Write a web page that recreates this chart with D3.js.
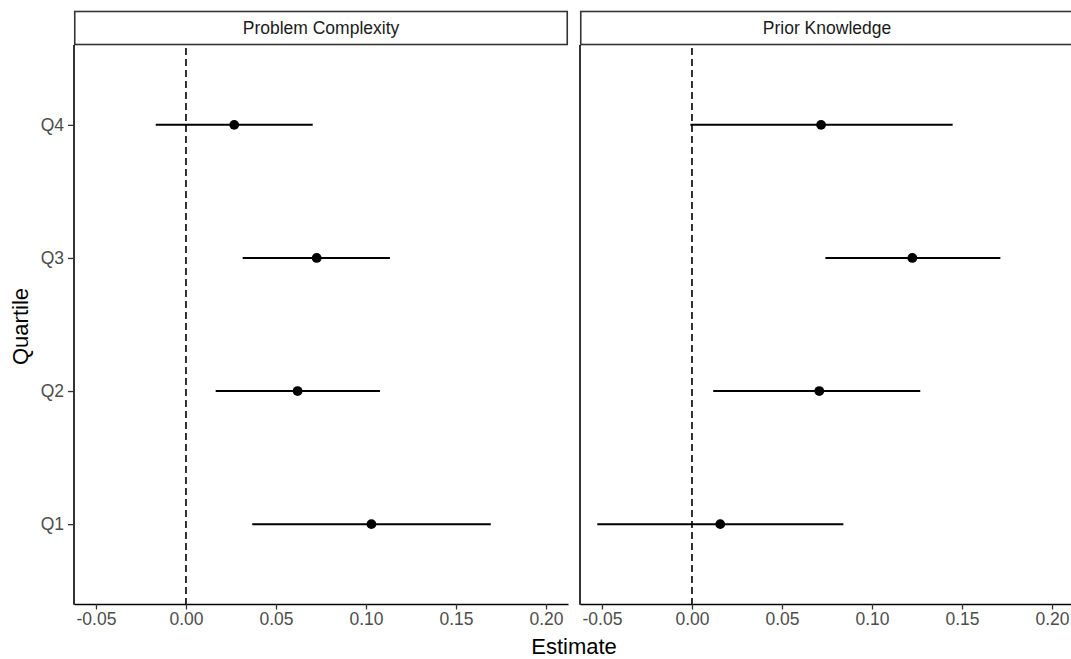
<!DOCTYPE html>
<html>
<head>
<meta charset="utf-8">
<script src="https://cdn.jsdelivr.net/npm/d3@7"></script>
<style>
  html, body { margin: 0; padding: 0; background: #fff; overflow: hidden; }
  text { font-family: "Liberation Sans", Arial, sans-serif; }
</style>
</head>
<body>
<svg id="chart"></svg>
<script>
// Facet panels and quartile categories
const panels = ["Problem Complexity", "Prior Knowledge"];
const quartiles = ["Q1", "Q2", "Q3", "Q4"];
const xTicks = [-0.05, 0.00, 0.05, 0.10, 0.15, 0.20];

// Estimates with lower / upper confidence bounds, per quartile (Q1..Q4)
const complexityEst = [0.103, 0.062, 0.0726, 0.0268];
const complexityLo  = [0.0368, 0.0165, 0.0315, -0.0168];
const complexityHi  = [0.1693, 0.1078, 0.1133, 0.0704];

const knowledgeEst = [0.0157, 0.0707, 0.1224, 0.0717];
const knowledgeLo  = [-0.0526, 0.0118, 0.0741, -0.0009];
const knowledgeHi  = [0.0841, 0.1268, 0.1713, 0.1448];

const seriesByPanel = [
  { est: complexityEst, lo: complexityLo, hi: complexityHi },
  { est: knowledgeEst, lo: knowledgeLo, hi: knowledgeHi }
];

const W = 1080, H = 659;
const svg = d3.select("#chart").attr("width", W).attr("height", H);

const panelLeft = [74, 580];
const panelW = 494;
const plotTop = 45, plotBottom = 604;
const stripTop = 11.5, stripH = 33;
const tickFont = 17.5, titleFont = 22;

const xDomain = [-0.0622, 0.2122];
// two decimals, plain hyphen for negatives
const fmt = d => d3.format(".2f")(d).replace("\u2212", "-");

const y = d3.scalePoint()
  .domain(quartiles.slice().reverse())
  .range([plotTop, plotBottom])
  .padding(0.6);

panels.forEach((name, pi) => {
  const x0 = panelLeft[pi];
  const x = d3.scaleLinear().domain(xDomain).range([x0, x0 + panelW]);
  const g = svg.append("g");
  const s = seriesByPanel[pi];

  // strip
  g.append("rect")
    .attr("x", x0 + 0.75).attr("y", stripTop)
    .attr("width", panelW - 1.5).attr("height", stripH)
    .attr("fill", "#fff").attr("stroke", "#333").attr("stroke-width", 1.6);
  g.append("text")
    .attr("x", x0 + panelW / 2).attr("y", stripTop + stripH / 2)
    .attr("dy", "0.36em").attr("text-anchor", "middle")
    .attr("font-size", tickFont).attr("fill", "#1a1a1a")
    .text(name);

  // reference line at zero
  g.append("line")
    .attr("x1", x(0)).attr("x2", x(0))
    .attr("y1", plotTop + 3).attr("y2", plotBottom)
    .attr("stroke", "#000").attr("stroke-width", 1.6)
    .attr("stroke-dasharray", "7,4");

  // confidence intervals
  g.selectAll("line.ci").data(quartiles).enter().append("line")
    .attr("class", "ci")
    .attr("x1", (d, i) => x(s.lo[i])).attr("x2", (d, i) => x(s.hi[i]))
    .attr("y1", d => y(d)).attr("y2", d => y(d))
    .attr("stroke", "#000").attr("stroke-width", 2);

  // point estimates
  g.selectAll("circle.pt").data(quartiles).enter().append("circle")
    .attr("class", "pt")
    .attr("cx", (d, i) => x(s.est[i])).attr("cy", d => y(d))
    .attr("r", 4.9).attr("fill", "#000");

  // x axis
  const xAxis = d3.axisBottom(x).tickValues(xTicks)
    .tickFormat(fmt).tickSize(5.5).tickSizeOuter(0).tickPadding(3.5);
  const ax = g.append("g").attr("transform", `translate(0,${plotBottom})`).call(xAxis);
  ax.select(".domain").attr("stroke", "#000").attr("stroke-width", 1.6);
  ax.selectAll(".tick line").attr("stroke", "#333").attr("stroke-width", 1.3);
  ax.selectAll(".tick text").attr("font-size", tickFont).attr("fill", "#4d4d4d")
    .attr("font-family", "Liberation Sans, Arial, sans-serif");

  // y axis line
  g.append("line")
    .attr("x1", x0).attr("x2", x0).attr("y1", plotTop).attr("y2", plotBottom + 0.8)
    .attr("stroke", "#000").attr("stroke-width", 1.6);
});

// y axis ticks and labels (left panel only)
const yAxis = d3.axisLeft(y).tickSize(6).tickSizeOuter(0).tickPadding(4);
const ay = svg.append("g").attr("transform", `translate(${panelLeft[0]},0)`).call(yAxis);
ay.select(".domain").remove();
ay.selectAll(".tick line").attr("stroke", "#333").attr("stroke-width", 1.3);
ay.selectAll(".tick text").attr("font-size", tickFont).attr("fill", "#4d4d4d")
  .attr("font-family", "Liberation Sans, Arial, sans-serif");

// axis titles
svg.append("text")
  .attr("x", (panelLeft[0] + panelLeft[1] + panelW) / 2).attr("y", 653.5)
  .attr("text-anchor", "middle").attr("font-size", titleFont).attr("fill", "#000")
  .text("Estimate");
svg.append("text")
  .attr("transform", `translate(28,${(plotTop + plotBottom) / 2 + 2}) rotate(-90)`)
  .attr("text-anchor", "middle").attr("font-size", titleFont).attr("fill", "#000")
  .text("Quartile");
</script>
</body>
</html>
